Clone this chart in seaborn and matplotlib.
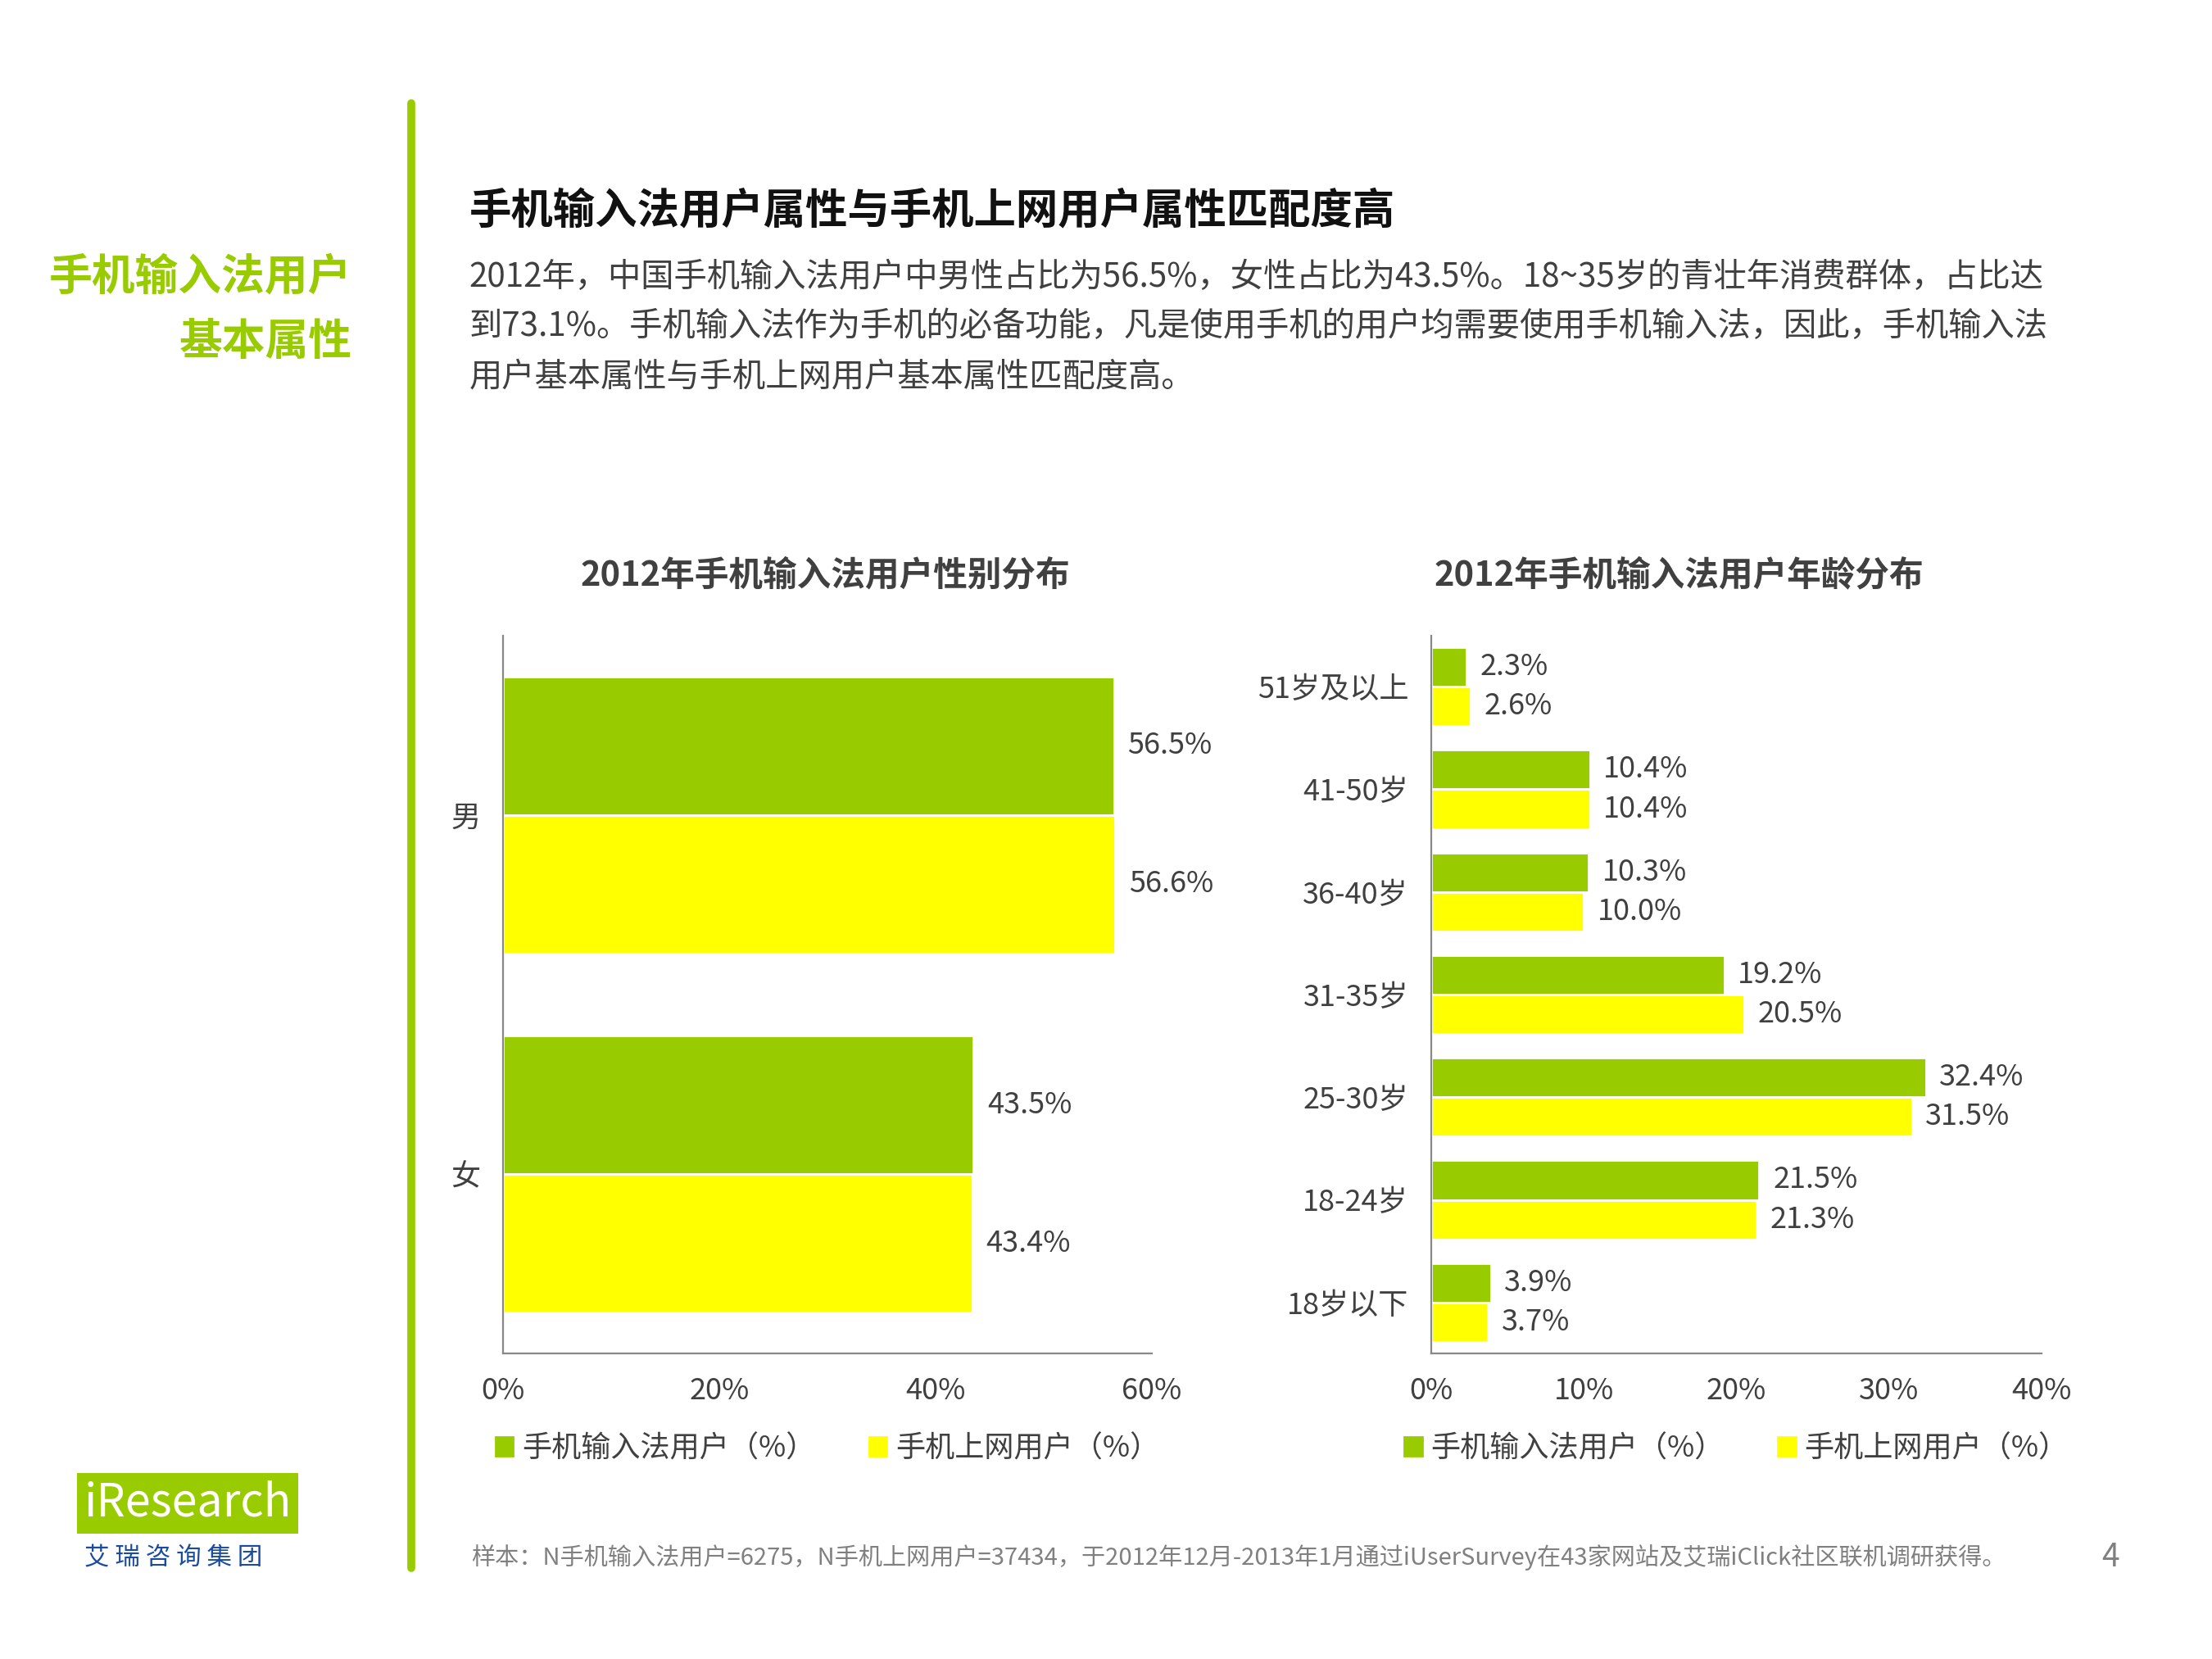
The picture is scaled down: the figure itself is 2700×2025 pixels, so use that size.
import matplotlib
matplotlib.use('Agg')
import matplotlib.pyplot as plt
import pandas as pd
import seaborn as sns
from matplotlib.patches import Patch

sns.set_style('white')
plt.rcParams['font.family'] = ['Noto Sans CJK SC', 'DejaVu Sans']

# ---------------------------------------------------------------------
# data
series = ['手机输入法用户（%）', '手机上网用户（%）']
gender_cats = ['男', '女']
gender_ime = [56.5, 43.5]
gender_web = [56.6, 43.4]

age_cats = ['51岁及以上', '41-50岁', '36-40岁', '31-35岁', '25-30岁', '18-24岁', '18岁以下']
age_ime = [2.3, 10.4, 10.3, 19.2, 32.4, 21.5, 3.9]
age_web = [2.6, 10.4, 10.0, 20.5, 31.5, 21.3, 3.7]

GREEN = '#99CC00'
YELLOW = '#FFFF00'
GREY = '#404040'

gender_df = pd.DataFrame({'cat': gender_cats * 2,
                          'val': gender_ime + gender_web,
                          'series': [series[0]] * 2 + [series[1]] * 2})
age_df = pd.DataFrame({'cat': age_cats * 2,
                       'val': age_ime + age_web,
                       'series': [series[0]] * 7 + [series[1]] * 7})

fig = plt.figure(figsize=(13.5, 10.125), dpi=200)

# ---------------------------------------------------------------------
# page decoration
fig.add_artist(plt.Line2D([0.186, 0.186], [0.055, 0.938], color=GREEN, lw=3.5))
fig.text(0.159, 0.833, '手机输入法用户', ha='right', va='center', fontsize=19,
         color=GREEN, fontweight='bold')
fig.text(0.159, 0.794, '基本属性', ha='right', va='center', fontsize=19,
         color=GREEN, fontweight='bold')
fig.text(0.212, 0.873, '手机输入法用户属性与手机上网用户属性匹配度高', ha='left', va='center',
         fontsize=18.5, fontweight='bold', color='#111111')
body = ['2012年，中国手机输入法用户中男性占比为56.5%，女性占比为43.5%。18~35岁的青壮年消费群体，占比达',
        '到73.1%。手机输入法作为手机的必备功能，凡是使用手机的用户均需要使用手机输入法，因此，手机输入法',
        '用户基本属性与手机上网用户基本属性匹配度高。']
for i, line in enumerate(body):
    fig.text(0.212, 0.833 - i * 0.030, line, ha='left', va='center', fontsize=14.5, color=GREY)

fig.text(0.213, 0.061, '样本：N手机输入法用户=6275，N手机上网用户=37434，于2012年12月-2013年1月通过iUserSurvey在43家网站及艾瑞iClick社区联机调研获得。',
         ha='left', va='center', fontsize=10.5, color='#808080')
fig.text(0.954, 0.061, '4', ha='center', va='center', fontsize=14, color='#808080')

# logo (text approximation)
fig.text(0.038, 0.094, 'iResearch', ha='left', va='center', fontsize=20, color='white',
         bbox=dict(boxstyle='square,pad=0.15', fc=GREEN, ec='none'))
fig.text(0.038, 0.061, '艾 瑞 咨 询 集 团', ha='left', va='center', fontsize=11, color='#1a4ba0')


# ---------------------------------------------------------------------
def draw(ax, df, cats, xmax, step):
    sns.barplot(data=df, y='cat', x='val', hue='series', order=cats, orient='h',
                palette=[GREEN, YELLOW], width=0.77, saturation=1, ax=ax, legend=False)
    ax.set_xlim(0, xmax)
    ax.set_xticks(range(0, xmax + 1, step))
    ax.set_xticklabels([f'{t}%' for t in range(0, xmax + 1, step)], fontsize=13, color=GREY)
    ax.set_yticks(range(len(cats)))
    ax.set_yticklabels(cats, fontsize=13, color=GREY)
    ax.set_xlabel('')
    ax.set_ylabel('')
    for s in ['top', 'right']:
        ax.spines[s].set_visible(False)
    for s in ['left', 'bottom']:
        ax.spines[s].set_color('#888888')
    ax.tick_params(length=0, pad=10)
    for cont in ax.containers:
        ax.bar_label(cont, labels=[f'{v:.1f}%' for v in cont.datavalues], padding=6,
                     fontsize=13, color=GREY)
    ax.legend(handles=[Patch(color=GREEN, label=series[0]), Patch(color=YELLOW, label=series[1])],
              loc='upper center', bbox_to_anchor=(0.5, -0.075), ncol=2, frameon=False,
              fontsize=13, handlelength=0.6, handleheight=0.6, handletextpad=0.3,
              columnspacing=1.8, labelcolor=GREY)


ax1 = fig.add_axes([0.2275, 0.184, 0.2932, 0.433])
draw(ax1, gender_df, gender_cats, 60, 20)
ax2 = fig.add_axes([0.647, 0.184, 0.276, 0.433])
draw(ax2, age_df, age_cats, 40, 10)
fig.text(0.373, 0.653, '2012年手机输入法用户性别分布', ha='center', va='center',
         fontsize=15, fontweight='bold', color=GREY)
fig.text(0.759, 0.653, '2012年手机输入法用户年龄分布', ha='center', va='center',
         fontsize=15, fontweight='bold', color=GREY)

fig.savefig('out.png', dpi=200)
